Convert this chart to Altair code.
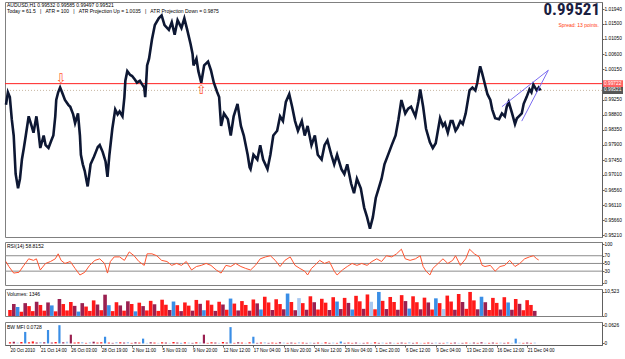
import altair as alt
import pandas as pd

# ---------------- data ----------------
time_labels = ["20 Oct 2010", "21 Oct 14:00", "26 Oct 03:00", "28 Oct 19:00", "2 Nov 11:00",
               "5 Nov 03:00", "9 Nov 20:00", "12 Nov 12:00", "17 Nov 04:00", "19 Nov 20:00",
               "24 Nov 12:00", "29 Nov 04:00", "1 Dec 20:00", "6 Dec 12:00", "9 Dec 04:00",
               "13 Dec 20:00", "16 Dec 12:00", "21 Dec 04:00"]
time_ticks = [0, 64, 128, 192, 256, 320, 384, 448, 512, 576, 640, 704, 768, 832, 896, 960, 1024, 1088]

price_bar = [2, 6, 10, 14, 18, 22, 27, 31, 35, 39, 43, 49, 55, 59, 65, 69, 73, 80, 84, 90, 96, 100,
             104, 106, 110, 114, 118, 124, 131, 135, 141, 145, 151, 155, 157, 161, 165, 169, 171, 175,
             177, 184, 188, 192, 196, 202, 208, 212, 216, 222, 228, 233, 237, 243, 247, 249, 253, 259,
             263, 269, 273, 279, 284, 288, 290, 292, 294, 298, 304, 310, 318, 324, 330, 339, 345, 351,
             357, 365, 371, 377, 384, 388, 390, 396, 400, 406, 412, 420, 426, 432, 439, 443, 447, 453,
             461, 467, 473, 481, 488, 494, 502, 506, 508, 514, 522, 528, 534, 543, 549, 555, 563, 569,
             575, 581, 588, 594, 600, 606, 614, 620, 626, 634, 641, 647, 655, 661, 667, 675, 681, 687,
             696, 702, 708, 716, 722, 728, 736, 743, 749, 755, 761, 767, 773, 779, 785, 794, 800, 808,
             814, 820, 828, 834, 840, 849, 855, 859, 865, 871, 879, 885, 891, 900, 906, 910, 916, 922,
             926, 932, 936, 942, 947, 953, 961, 967, 973, 977, 981, 983, 987, 991, 998, 1004, 1008,
             1014, 1022, 1028, 1034, 1038, 1042, 1049, 1055, 1059, 1063, 1069, 1073, 1079, 1085, 1089,
             1093, 1100, 1104, 1108]
price_close = [0.99093, 0.99465, 0.99322, 0.98665, 0.98180, 0.97037, 0.96609, 0.96895, 0.97466, 0.97808,
               0.98180, 0.98751, 0.98465, 0.98265, 0.98751, 0.98322, 0.97808, 0.98180, 0.97894, 0.97808,
               0.98037, 0.98180, 0.98751, 0.99236, 0.99465, 0.99608, 0.99465, 0.99236, 0.99093, 0.99036,
               0.98808, 0.98551, 0.98836, 0.98180, 0.97608, 0.97323, 0.97123, 0.96809, 0.96666, 0.97094,
               0.97323, 0.97551, 0.97694, 0.97837, 0.97894, 0.97694, 0.97409, 0.96952, 0.97608, 0.98380,
               0.98951, 0.98808, 0.98894, 0.98751, 0.99322, 0.99808, 1.00093, 0.99979, 0.99950, 0.99836,
               0.99750, 0.99808, 0.99693, 0.99608, 0.99322, 0.99750, 1.00264, 1.00464, 1.01035, 1.01464,
               1.01664, 1.01750, 1.01464, 1.01321, 1.01550, 1.01178, 1.01607, 1.01378, 1.01664, 1.01321,
               1.00893, 1.00607, 1.00264, 1.00464, 1.00093, 0.99750, 1.00264, 1.00378, 1.00121, 0.99750,
               0.99465, 0.99322, 0.98465, 0.98836, 0.98665, 0.98180, 0.98751, 0.99122, 0.98465, 0.98180,
               0.97608, 0.97237, 0.97180, 0.97608, 0.97466, 0.97894, 0.97466, 0.97180, 0.97608, 0.98180,
               0.98322, 0.98751, 0.98608, 0.99179, 0.99408, 0.99036, 0.98608, 0.98322, 0.98608, 0.98180,
               0.98465, 0.97894, 0.98180, 0.97608, 0.97466, 0.97894, 0.98037, 0.97608, 0.97323, 0.97608,
               0.97180, 0.97037, 0.97323, 0.96752, 0.96466, 0.96895, 0.96609, 0.96037, 0.95752, 0.95409,
               0.95752, 0.96323, 0.96609, 0.96895, 0.97323, 0.97665, 0.97894, 0.98180, 0.98665, 0.99236,
               0.98836, 0.98979, 0.99036, 0.98751, 0.99179, 0.99551, 0.99036, 0.98380, 0.97980, 0.97808,
               0.97951, 0.98694, 0.98465, 0.98551, 0.98265, 0.98608, 0.98608, 0.98322, 0.98408, 0.98608,
               0.98522, 0.98836, 0.99522, 0.99608, 0.99522, 0.99750, 1.00093, 1.00236, 1.00036, 0.99808,
               0.99408, 0.99236, 0.98951, 0.98694, 0.98665, 0.98836, 0.98751, 0.99036, 0.99179, 0.98836,
               0.98522, 0.98694, 0.98751, 0.98836, 0.99122, 0.99322, 0.99551, 0.99465, 0.99693, 0.99522,
               0.99608, 0.99521]
price_ticks = [1.0194, 1.0150, 1.0105, 1.0060, 1.0015, 0.9925, 0.9880, 0.9835, 0.9790,
               0.9745, 0.9701, 0.9656, 0.9611, 0.9566, 0.9521]

red_level = [0.99722]
bid_level = [0.99521]

trend_seg = ["a", "a", "b", "b"]
trend_bar = [1028, 1124, 1069, 1124]
trend_price = [0.99036, 1.00121, 0.98608, 1.00121]

arrow_bar = [116, 406]
arrow_price = [0.99871, 0.99521]
arrow_glyph = ["\u21e9", "\u21e7"]

rsi_bar = [2, 8, 18, 29, 39, 49, 59, 65, 73, 84, 94, 104, 110, 116, 124, 135, 145, 155, 165, 175,
           186, 196, 206, 212, 218, 226, 237, 247, 257, 267, 277, 288, 294, 304, 314, 324, 335, 345,
           355, 365, 375, 386, 396, 406, 416, 426, 437, 447, 457, 467, 477, 488, 498, 508, 518, 528,
           539, 549, 559, 569, 579, 590, 600, 610, 620, 626, 634, 641, 651, 661, 671, 681, 687, 698,
           708, 718, 728, 738, 749, 759, 769, 779, 789, 800, 810, 820, 828, 838, 849, 859, 865, 871,
           879, 885, 896, 906, 916, 926, 932, 942, 953, 961, 971, 981, 987, 993, 1004, 1014, 1024,
           1034, 1044, 1055, 1065, 1075, 1085, 1093, 1100, 1104]
rsi_val = [55, 42, 25, 27, 45, 62, 58, 62, 33, 50, 55, 62, 75, 58, 50, 55, 37, 20, 27, 45,
           58, 62, 50, 25, 55, 67, 67, 58, 80, 70, 55, 45, 75, 75, 70, 58, 55, 45,
           50, 45, 55, 33, 42, 45, 50, 45, 33, 25, 45, 42, 50, 42, 37, 33, 45, 62,
           67, 70, 58, 42, 58, 67, 45, 37, 30, 20, 37, 45, 58, 50, 55, 30, 20, 33,
           42, 50, 45, 50, 45, 55, 62, 55, 70, 67, 75, 87, 62, 58, 62, 70, 42, 30,
           20, 37, 50, 62, 50, 58, 70, 45, 62, 87, 75, 67, 45, 42, 45, 30, 42,
           45, 58, 42, 50, 62, 67, 70, 62, 59]
rsi_levels = [30, 50, 70]

vol_bar = list(range(0, 1105, 8))
vol_val = [2600, 5200, 3900, 1800, 5600, 4300, 2100, 6200, 4800, 2300,
           5900, 4600, 2000, 7400, 5200, 2400, 6100, 4400, 1900, 5600,
           4100, 2200, 6800, 5000, 2500, 9300, 4700, 2100, 6000, 4600,
           2300, 6400, 5200, 2000, 5800, 4300, 2400, 6600, 5100, 2200,
           7100, 4900, 2600, 6300, 4700, 2100, 5900, 4500, 2300, 7000,
           5300, 2500, 6800, 4900, 2200, 6200, 5000, 2700, 7600, 5400,
           2400, 6500, 4800, 2300, 7200, 5500, 2800, 8400, 5900, 2600,
           7300, 5200, 2900, 9800, 6100, 2500, 7800, 5600, 2700, 8600,
           6000, 2800, 7500, 5800, 2600, 8200, 6300, 3000, 7900, 5700,
           2800, 8800, 6400, 3100, 9400, 6200, 2900, 10500, 6600, 3000,
           8300, 6100, 2700, 9100, 6500, 3200, 8600, 6000, 2900, 8000,
           5900, 2800, 7700, 5600, 3000, 8900, 6300, 2700, 9600, 6100,
           3100, 10500, 6800, 2900, 8400, 6000, 2600, 7900, 5700, 2800,
           8200, 5900, 2700, 7400, 5300, 2500, 6900, 4800, 2200]
vol_kind = list("rmbrmrrmrr" "mbrmrrrmbm" "rrrmrmbrrm" "rmrbrmrrmr" "rrmbrmrrmr"
                "mbrrmrmrbr" "mrrmrmbrrm" "rrmbrmlrmr" "mrrrmrbmrm" "brrmrlrbrm"
                "rrmrmbrrmr" "mrbrlrrmrm" "rrrmbmrrrm" "rbmrmrrrm")

mfi_val = [0.004, 0.006, 0.003, 0.005, 0.0395, 0.004, 0.007, 0.003, 0.005, 0.004,
           0.046, 0.003, 0.005, 0.0626, 0.004, 0.006, 0.030, 0.003, 0.004, 0.005,
           0.002, 0.004, 0.006, 0.003, 0.004, 0.023, 0.003, 0.002, 0.005, 0.004,
           0.003, 0.005, 0.002, 0.004, 0.003, 0.0165, 0.002, 0.004, 0.003, 0.002,
           0.004, 0.003, 0.002, 0.005, 0.003, 0.002, 0.004, 0.003, 0.002, 0.004,
           0.003, 0.030, 0.002, 0.004, 0.003, 0.002, 0.005, 0.003, 0.056, 0.002,
           0.004, 0.003, 0.002, 0.004, 0.023, 0.002, 0.003, 0.004, 0.002, 0.003,
           0.002, 0.004, 0.003, 0.002, 0.003, 0.002, 0.004, 0.003, 0.002, 0.003,
           0.002, 0.003, 0.002, 0.004, 0.002, 0.003, 0.002, 0.0066, 0.002, 0.003,
           0.002, 0.003, 0.002, 0.002, 0.003, 0.002, 0.004, 0.002, 0.003, 0.002,
           0.003, 0.002, 0.002, 0.003, 0.002, 0.004, 0.002, 0.003, 0.002, 0.002,
           0.003, 0.002, 0.003, 0.002, 0.002, 0.004, 0.002, 0.003, 0.002, 0.002,
           0.003, 0.002, 0.003, 0.002, 0.004, 0.002, 0.002, 0.003, 0.002, 0.003,
           0.002, 0.003, 0.002, 0.0165, 0.003, 0.002, 0.003, 0.002, 0.003]
mfi_kind = list("gnpguggnpn" "ungunpnggp" "gpnggugnpg" "npgngupngp" "gnpgnugpng"
                "pnggnpgnug" "ngpgungpng" "gnpgngpgnp" "ngpgnpgung" "gnpngpgnpg"
                "npgngpngpg" "gnpngpgnpn" "gpngnpgngp" "ngpupgngp")

# ---------------- frames ----------------
price_df = pd.DataFrame({"bar": price_bar, "price": price_close})
trend_df = pd.DataFrame({"bar": trend_bar, "price": trend_price, "seg": trend_seg})
arrow_df = pd.DataFrame({"bar": arrow_bar, "price": arrow_price, "g": arrow_glyph})
rsi_df = pd.DataFrame({"bar": rsi_bar, "rsi": rsi_val})
vol_df = pd.DataFrame(list(zip(vol_bar, vol_val, vol_kind)), columns=["bar", "vol", "k"])
mfi_df = pd.DataFrame(list(zip(vol_bar, mfi_val, mfi_kind)), columns=["bar", "mfi", "k"])

W = 597
FONT = "Liberation Sans"
FS = 5
AFS = 4.8
XFS = 4.5
NB = "\u00a0"
xscale = alt.Scale(domain=[0, 1235], nice=False, zero=False)
xnone = alt.X("bar:Q", scale=xscale, axis=None)


def right_axis(values, fmt=None):
    kw = dict(orient="right", values=values, title=None, grid=False, tickSize=2,
              labelFontSize=AFS, labelPadding=0, domainColor="#606060", tickColor="#606060",
              labelColor="#000000", labelFont=FONT)
    if fmt:
        kw["format"] = fmt
    return alt.Axis(**kw)


one = alt.Data(values=[{}])


def label(txt, x, y, **kw):
    opts = dict(align="left", baseline="middle", fontSize=FS, font=FONT, color="#000000")
    opts.update(kw)
    return alt.Chart(one).mark_text(**opts).encode(x=alt.value(x), y=alt.value(y), text=alt.value(txt))


SEP = NB * 3 + "|" + NB * 3

# ---------------- price panel ----------------
pscale = alt.Scale(domain=[0.95163, 1.02149], nice=False, zero=False)
PY = alt.Y("price:Q", scale=pscale, axis=right_axis(price_ticks, ".5f"))

p_line = alt.Chart(price_df).mark_line(color="#0d1733", strokeWidth=2.6).encode(x=xnone, y=PY)
p_red = alt.Chart(pd.DataFrame({"price": red_level})).mark_rule(color="#ff2020", strokeWidth=1).encode(y=PY)
p_bid = alt.Chart(pd.DataFrame({"price": bid_level})).mark_rule(
    color="#c9b8a4", strokeWidth=1, strokeDash=[1, 2]).encode(y=PY)
p_trend = alt.Chart(trend_df).mark_line(color="#7b6cf0", strokeWidth=1).encode(
    x=xnone, y=PY, detail="seg:N")
p_arrow = alt.Chart(arrow_df).mark_text(color="#ff5a30", fontSize=13, font="DejaVu Sans").encode(
    x=xnone, y=PY, text="g:N")

p_head1 = label("AUDUSD,H1  0.99532 0.99585 0.99497 0.99521", 2, 3.4)
p_head2 = label("Today = 61.5" + SEP + "ATR = 100" + SEP + "ATR Projection Up = 1.0035" + SEP +
                "ATR Projection Down = 0.9875", 2, 9.1)
p_big = label("0.99521", 595, 0, align="right", baseline="top", fontSize=17, fontWeight="bold",
              font="Roboto Condensed, Liberation Sans Narrow, Liberation Sans", color="#1a2040")
p_spread = label("Spread: 13 points.", 594, 23, align="right", color="#ff3a10")

p_tag_red = alt.Chart(pd.DataFrame({"price": red_level})).mark_tick(
    orient="horizontal", color="#ff2020", size=42, thickness=7, clip=False).encode(
    x=alt.value(619), y=PY)
p_tag_red_t = alt.Chart(pd.DataFrame({"price": red_level})).mark_text(
    align="left", baseline="middle", fontSize=AFS, font=FONT, color="#ffffff").encode(
    x=alt.value(599), y=PY, text=alt.Text("price:Q", format=".5f"))
p_tag_bid = alt.Chart(pd.DataFrame({"price": bid_level})).mark_tick(
    orient="horizontal", color="#101010", size=42, thickness=7, clip=False).encode(
    x=alt.value(619), y=PY)
p_tag_bid_t = alt.Chart(pd.DataFrame({"price": bid_level})).mark_text(
    align="left", baseline="middle", fontSize=AFS, font=FONT, color="#ffffff").encode(
    x=alt.value(599), y=PY, text=alt.Text("price:Q", format=".5f"))

price_panel = alt.layer(p_bid, p_red, p_line, p_trend, p_arrow, p_head1, p_head2, p_big, p_spread,
                        p_tag_red, p_tag_red_t, p_tag_bid, p_tag_bid_t).properties(width=W, height=235)

# ---------------- RSI panel ----------------
rscale = alt.Scale(domain=[-6, 105.7], nice=False, zero=False)
RY = alt.Y("rsi:Q", scale=rscale, axis=right_axis([0, 30, 50, 70, 100]))
r_lev = alt.Chart(pd.DataFrame({"rsi": rsi_levels})).mark_rule(color="#8c8c8c", strokeWidth=1).encode(y=RY)
r_line = alt.Chart(rsi_df).mark_line(color="#ff5530", strokeWidth=1).encode(x=xnone, y=RY)
rsi_panel = alt.layer(r_lev, r_line, label("RSI(14) 58.8152", 2, 4)).properties(width=W, height=43)

# ---------------- Volume panel ----------------
vscale = alt.Scale(domain=[-40, 11790], nice=False, zero=False)
v_bars = alt.Chart(vol_df).mark_bar(size=3.6).encode(
    x=xnone, y=alt.Y("vol:Q", scale=vscale, axis=right_axis([0, 10523])),
    color=alt.Color("k:N", legend=None,
                    scale=alt.Scale(domain=["r", "m", "b", "l"],
                                    range=["#ff1a1a", "#9a2050", "#3a8ee6", "#a8c8f0"])))
vol_panel = alt.layer(v_bars, label("Volumes: 1346", 2, 5)).properties(width=W, height=27)

# ---------------- BW MFI panel ----------------
mscale = alt.Scale(domain=[-0.0053, 0.0735], nice=False, zero=False)
label_js = "[" + ",".join("'" + t + "'" for t in time_labels) + "]"
xaxis = alt.Axis(orient="bottom", values=time_ticks, title=None, grid=False, tickSize=2,
                 labelFontSize=XFS, labelPadding=0, labelAlign="left", labelFont=FONT,
                 labelColor="#000000", domainColor="#606060", tickColor="#606060",
                 labelExpr=label_js + "[round(datum.value/64)]", labelOverlap=False)
m_bars = alt.Chart(mfi_df).mark_bar(size=2.2).encode(
    x=alt.X("bar:Q", scale=xscale, axis=xaxis),
    y=alt.Y("mfi:Q", scale=mscale, axis=right_axis([0, 0.0626], ".4~f")),
    color=alt.Color("k:N", legend=None,
                    scale=alt.Scale(domain=["g", "n", "u", "p"],
                                    range=["#10b010", "#b8642a", "#2020ff", "#ff70b0"])))
mfi_panel = alt.layer(m_bars, label("BW MFI 0.0728", 2, 5)).properties(width=W, height=23)

chart = alt.vconcat(price_panel, rsi_panel, vol_panel, mfi_panel, spacing=2).properties(
    padding={"left": 0, "top": 0, "right": -23, "bottom": 0},
    background="#ffffff",
).configure_view(stroke="#808080", strokeWidth=1).configure_concat(spacing=2)

chart.save("out.html", embed_options={"renderer": "svg", "actions": False})
